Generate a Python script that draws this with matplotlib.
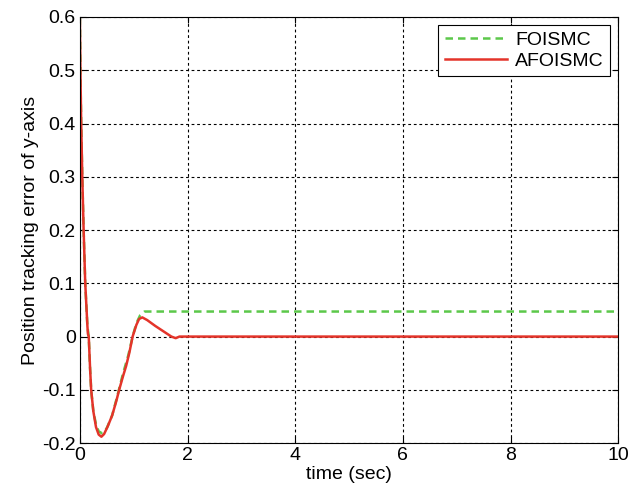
import numpy as np
import matplotlib
matplotlib.use('Agg')
from matplotlib import pyplot as plt

plt.rcParams['font.family'] = ['Liberation Sans', 'DejaVu Sans']

# tracking error samples (time in sec, error)
t_foismc = [0, 0.01, 0.025, 0.045, 0.07, 0.10, 0.14, 0.165, 0.19, 0.21, 0.25, 0.30,
            0.35, 0.42, 0.50, 0.60, 0.70, 0.80, 0.90, 0.98, 1.05, 1.12, 1.20, 10.0]
e_foismc = [0.6, 0.5, 0.4, 0.3, 0.2, 0.1, 0.02, 0.0, -0.06, -0.10, -0.14, -0.165,
            -0.178, -0.182, -0.172, -0.148, -0.11, -0.07, -0.035, 0.0, 0.025, 0.04, 0.047, 0.047]

t_afoismc = [0, 0.01, 0.025, 0.045, 0.07, 0.10, 0.14, 0.15, 0.165, 0.19, 0.21, 0.25,
             0.30, 0.35, 0.40, 0.45, 0.52, 0.60, 0.68, 0.73, 0.80, 0.86, 0.92, 0.98,
             1.05, 1.10, 1.16, 1.25, 1.40, 1.55, 1.70, 1.78, 1.85, 10.0]
e_afoismc = [0.6, 0.5, 0.4, 0.3, 0.2, 0.1, 0.02, 0.005, 0.0, -0.06, -0.10, -0.14,
             -0.17, -0.184, -0.188, -0.183, -0.168, -0.148, -0.12, -0.10, -0.075, -0.055,
             -0.03, 0.0, 0.022, 0.033, 0.036, 0.031, 0.02, 0.01, 0.0, -0.003, 0.0, 0.0]

fig = plt.figure(figsize=(6.44, 4.99), dpi=100)
ax = fig.add_axes([0.124, 0.112, 0.836, 0.854])

ax.plot(t_foismc, e_foismc, color='#5cc84a', lw=1.8, dashes=(3, 2), label='FOISMC')
ax.plot(t_afoismc, e_afoismc, color='#e4342a', lw=1.8, label='AFOISMC')

ax.set_xlim(0, 10)
ax.set_ylim(-0.2, 0.6)
ax.set_xticks(np.arange(0, 11, 2))
ax.set_yticks(np.round(np.arange(-0.2, 0.61, 0.1), 1))
ax.set_yticklabels(['-0.2', '-0.1', '0', '0.1', '0.2', '0.3', '0.4', '0.5', '0.6'])

ax.grid(True, color='black', lw=0.8, dashes=(2.5, 2.5))
ax.tick_params(direction='in', labelsize=14, length=4, pad=3, top=True, right=True)
for s in ax.spines.values():
    s.set_linewidth(0.8)

ax.set_xlabel('time (sec)', fontsize=14, labelpad=1)
ax.set_ylabel('Position tracking error of y-axis', fontsize=14, labelpad=2)

leg = ax.legend(loc='upper right', fontsize=14, handlelength=3.2, handletextpad=0.4,
                fancybox=False, framealpha=1, edgecolor='black',
                borderaxespad=0.4, borderpad=0.35, labelspacing=0.15)
leg.get_frame().set_linewidth(0.8)

fig.savefig('out.png', dpi=100)
